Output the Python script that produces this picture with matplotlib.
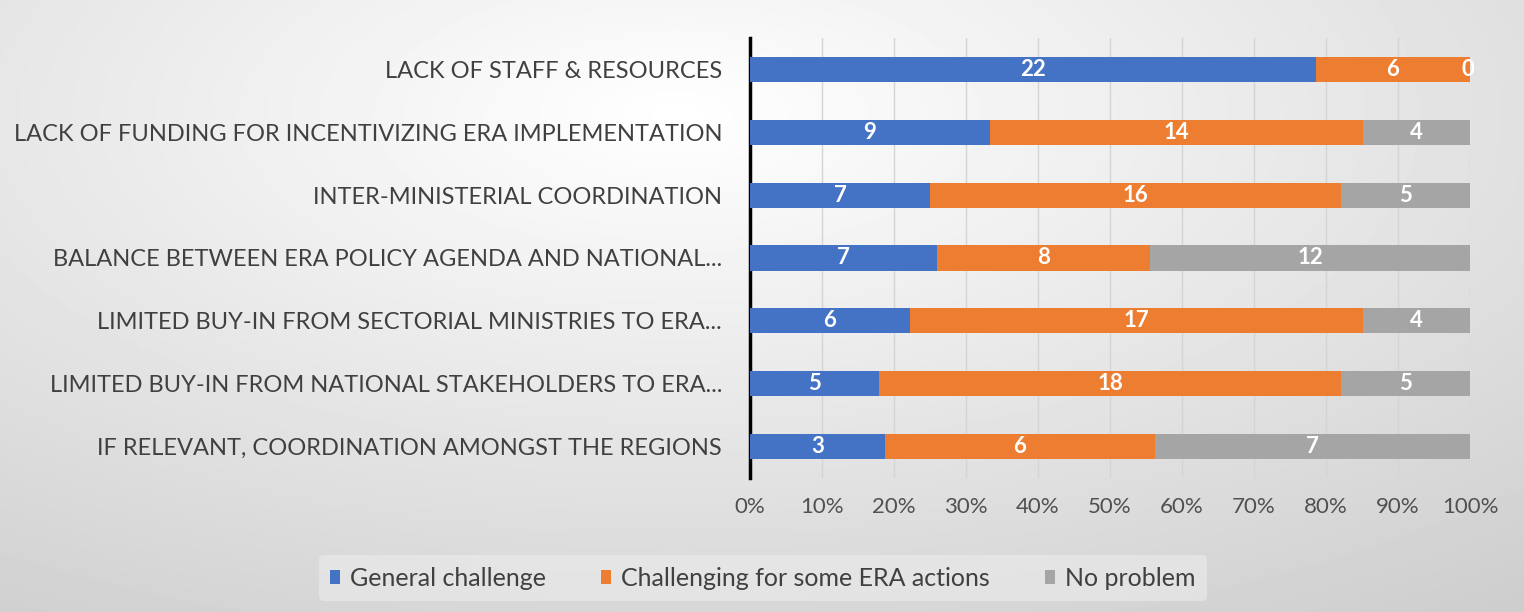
import numpy as np
import matplotlib.pyplot as plt

plt.rcParams['font.family'] = ['Lato', 'DejaVu Sans']

categories = [
    "LACK OF STAFF & RESOURCES",
    "LACK OF FUNDING FOR INCENTIVIZING ERA IMPLEMENTATION",
    "INTER-MINISTERIAL COORDINATION",
    "BALANCE BETWEEN ERA POLICY AGENDA AND NATIONAL...",
    "LIMITED BUY-IN FROM SECTORIAL MINISTRIES TO ERA...",
    "LIMITED BUY-IN FROM NATIONAL STAKEHOLDERS TO ERA...",
    "IF RELEVANT, COORDINATION AMONGST THE REGIONS",
]
general = [22, 9, 7, 7, 6, 5, 3]
some_actions = [6, 14, 16, 8, 17, 18, 6]
no_problem = [0, 4, 5, 12, 4, 5, 7]

series_names = ["General challenge", "Challenging for some ERA actions", "No problem"]
colors = ["#4472C4", "#ED7D31", "#A5A5A5"]

counts = np.array([general, some_actions, no_problem], dtype=float)
shares = counts / counts.sum(axis=0)

fig = plt.figure(figsize=(15.24, 6.12), dpi=100)

# gradient background
bg = fig.add_axes([0, 0, 1, 1], zorder=-10)
xx, yy = np.meshgrid(np.linspace(-1, 1, 400), np.linspace(-1, 1, 200))
shade = np.clip(np.sqrt((xx * 0.9 + 0.1) ** 2 + (yy * 0.8 + 0.5) ** 2), 0, 1.6)
bg.imshow(1 - 0.12 * shade, cmap='gray', vmin=0, vmax=1, aspect='auto', extent=[0, 1, 0, 1])
bg.axis('off')

ax = fig.add_axes([750 / 1524, 1 - 478 / 612, 720 / 1524, 440 / 612])
ax.patch.set_alpha(0)

y = np.arange(len(categories))
left = np.zeros(len(categories))
handles = []
for i in range(3):
    b = ax.barh(y, shares[i], left=left, height=0.4, color=colors[i], label=series_names[i], zorder=3)
    handles.append(b)
    for yi, (l, w, c) in enumerate(zip(left, shares[i], counts[i])):
        xpos = l + w / 2 if w > 0 else l - 0.003
        ax.text(xpos, yi, f"{int(c)}", ha='center', va='center', color='white',
                fontsize=16, fontweight='bold', zorder=4)
    left += shares[i]

ax.set_ylim(len(categories) - 0.5, -0.5)
ax.set_xlim(0, 1)
ax.set_yticks(y)
ax.set_yticklabels(categories, fontsize=17, color='#404040')
ax.set_xticks(np.linspace(0, 1, 11))
ax.set_xticklabels([f"{int(v)}%" for v in range(0, 101, 10)], fontsize=16, color='#505050')
ax.tick_params(axis='both', length=0)
ax.tick_params(axis='x', pad=14)
ax.tick_params(axis='y', pad=20)
ax.xaxis.grid(True, color='#d4d4d4', linewidth=1, zorder=0)
for s in ['top', 'right', 'bottom']:
    ax.spines[s].set_visible(False)
ax.spines['left'].set_color('black')
ax.spines['left'].set_linewidth(2.5)

leg = fig.legend(handles=handles, loc='center', bbox_to_anchor=(763 / 1524, 1 - 578 / 612),
                 ncol=3, frameon=True, fontsize=18, handlelength=0.4, handleheight=0.5,
                 handletextpad=0.4, columnspacing=2.2, borderpad=0.45)
leg.get_frame().set_facecolor('#ececec')
leg.get_frame().set_edgecolor('none')
leg.get_frame().set_alpha(0.6)
for t in leg.get_texts():
    t.set_color('#404040')

fig.savefig('out.png', dpi=100)
